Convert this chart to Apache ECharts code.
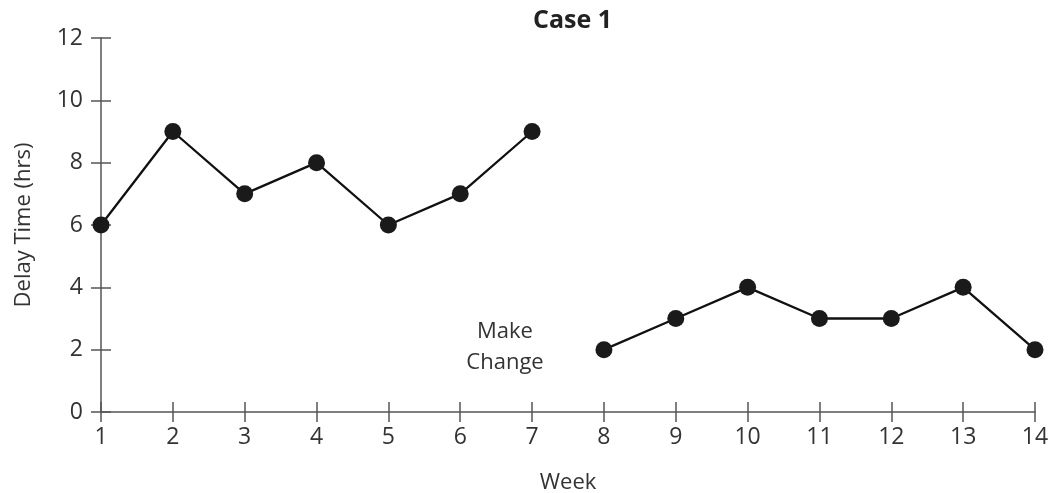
<!DOCTYPE html>
<html><head><meta charset="utf-8">
<script src="https://cdn.jsdelivr.net/npm/echarts@6/dist/echarts.min.js"></script>
<style>html,body{margin:0;padding:0;background:#fff}#c{width:1053px;height:493px}</style>
</head><body><div id="c"></div>
<script>
const weeks = [1,2,3,4,5,6,7,8,9,10,11,12,13,14];
const beforeWeeks = [1,2,3,4,5,6,7];
const beforeDelay = [6,9,7,8,6,7,9];
const afterWeeks = [8,9,10,11,12,13,14];
const afterDelay = [2,3,4,3,3,4,2];
const yTicks = [0,2,4,6,8,10,12];

const font = '"Open Sans", "Noto Sans", sans-serif';
const txt = '#333';
const axisCol = '#555';

const chart = echarts.init(document.getElementById('c'), null, {renderer:'canvas'});
const grid = {left:101, right:18, top:38, bottom:81, containLabel:false, outerBoundsMode:'none'};
function xAx(inside, show) {
  return {type:'value', position:'bottom', min:weeks[0], max:weeks[weeks.length-1], interval:1,
    axisLine:{show:show, lineStyle:{color:axisCol, width:1.5}},
    axisTick:{show:true, inside:inside, length:10, lineStyle:{color:axisCol, width:1.5}},
    axisLabel:{show:show, color:txt, fontFamily:font, fontSize:23, margin:14},
    splitLine:{show:false},
    name: show ? 'Week' : '', nameLocation:'middle', nameGap:60,
    nameTextStyle:{color:txt, fontFamily:font, fontSize:22}};
}
function yAx(inside, show) {
  return {type:'value', position:'left', min:yTicks[0], max:yTicks[yTicks.length-1], interval:2,
    axisLine:{show:show, lineStyle:{color:axisCol, width:1.5}},
    axisTick:{show:true, inside:inside, length:10, lineStyle:{color:axisCol, width:1.5}},
    axisLabel:{show:show, color:txt, fontFamily:font, fontSize:23, margin:18},
    splitLine:{show:false},
    name: show ? 'Delay Time (hrs)' : '', nameLocation:'middle', nameGap:66,
    nameTextStyle:{color:txt, fontFamily:font, fontSize:22}};
}
const lineStyle = {color:'#111', width:2.3};
const itemStyle = {color:'#1a1a1a'};
chart.setOption({
  animation:false,
  title:{text:'Case 1', left:528, top:3, textStyle:{fontFamily:font, fontWeight:'bold', fontSize:25, color:'#222'}},
  grid:grid,
  xAxis:[xAx(false,true), xAx(true,false)],
  yAxis:[yAx(false,true), yAx(true,false)],
  series:[
    {type:'line', data:beforeWeeks.map((w,i)=>[w,beforeDelay[i]]), symbol:'circle', symbolSize:17, lineStyle, itemStyle},
    {type:'line', data:afterWeeks.map((w,i)=>[w,afterDelay[i]]), symbol:'circle', symbolSize:17, lineStyle, itemStyle}
  ],
  graphic:[{type:'text', x:505, y:316, style:{text:'Make\nChange', fill:txt, font:'22px '+font, textAlign:'center', lineHeight:31}}]
});
</script></body></html>
